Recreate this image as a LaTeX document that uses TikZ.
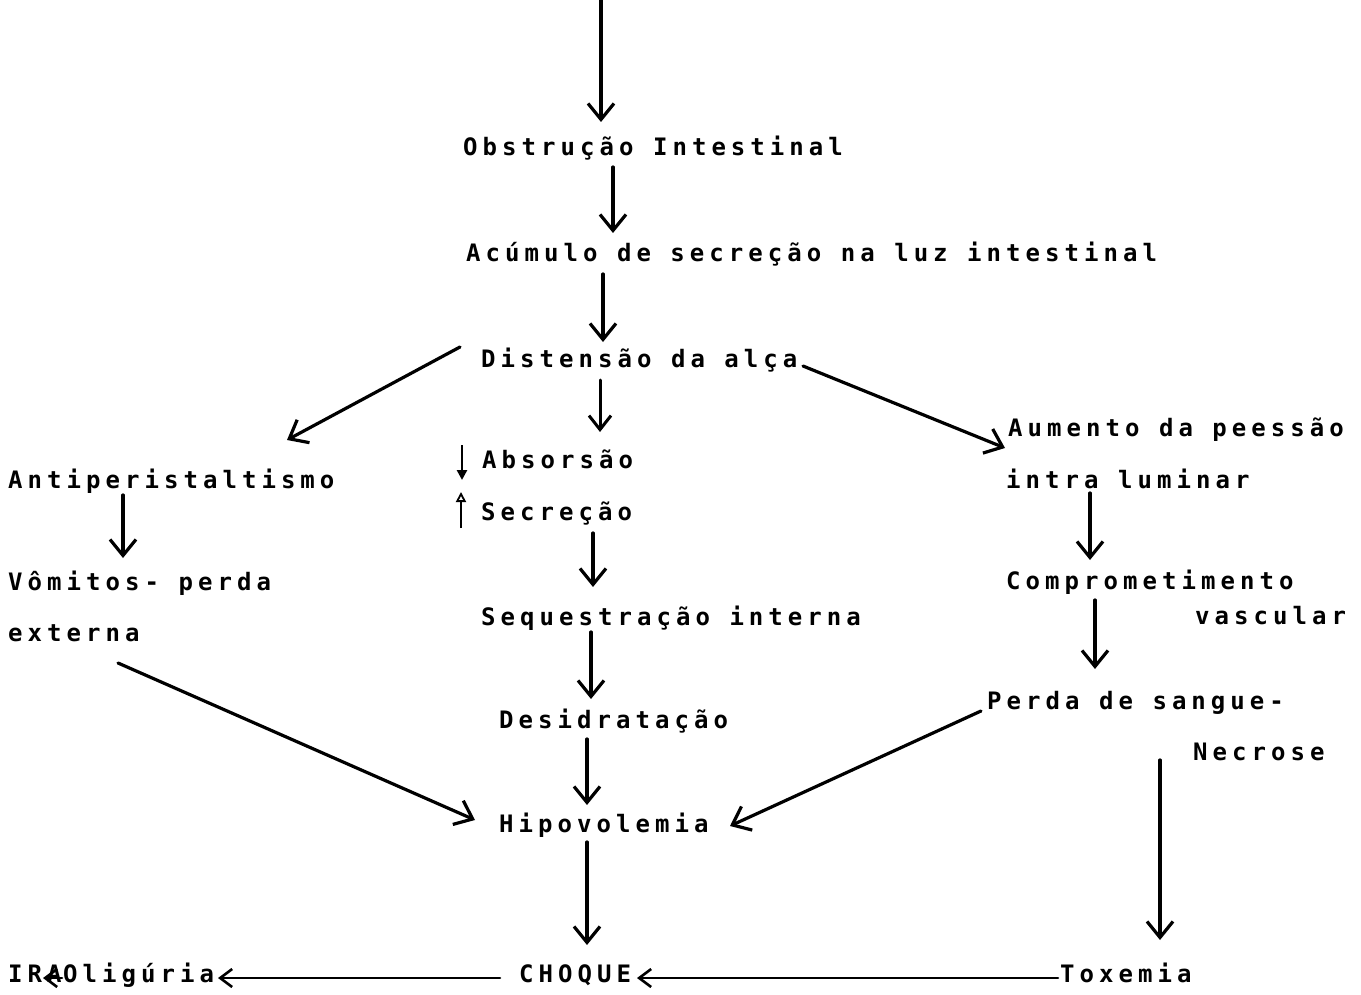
\documentclass[tikz,border=0pt]{standalone}
\usepackage{fontspec}
\newfontfamily\tw[LetterSpace=21]{DejaVu Sans Mono Bold}
\usetikzlibrary{arrows.meta}
\tikzset{
  lbl/.style={anchor=base west, inner sep=0pt, font=\tw\fontsize{24}{28}\selectfont},
  arr/.style={line width=3.2pt, line cap=round, -{Straight Barb[length=16pt,width=26pt,line width=3.2pt]}},
  arrm/.style={line width=3pt, line cap=round, -{Straight Barb[length=14pt,width=22pt,line width=3pt]}},
  arrs/.style={line width=2.6pt, line cap=round, -{Straight Barb[length=12pt,width=18pt,line width=2.6pt]}},
  tiny/.style={line width=2.8pt, -{Triangle[length=10pt,width=10pt]}},
  tinyo/.style={line width=2.8pt, -{Triangle[open,length=10pt,width=10pt,line width=1.8pt]}}
}
\begin{document}
\begin{tikzpicture}[x=1pt,y=-1pt]
\useasboundingbox (0,0) rectangle (1361,995);
\node[lbl] (obs) at (463,156) {Obstrução Intestinal};
\node[lbl] (acu) at (466,262) {Acúmulo de secreção na luz intestinal};
\node[lbl] (dis) at (481,367) {Distensão da alça};
\node[lbl] (aum) at (1008,436) {Aumento da peessão};
\node[lbl] (intra) at (1006,488) {intra luminar};
\node[lbl] (anti) at (8,488) {Antiperistaltismo};
\node[lbl] (abs) at (482,468) {Absorsão};
\node[lbl] (sec) at (481,520) {Secreção};
\node[lbl] (vom) at (8,590) {Vômitos- perda};
\node[lbl] (ext) at (8,641) {externa};
\node[lbl] (seq) at (481,625) {Sequestração interna};
\node[lbl] (comp) at (1006,589) {Comprometimento};
\node[lbl] (vasc) at (1195,624) {vascular};
\node[lbl] (perda) at (987,709) {Perda de sangue-};
\node[lbl] (nec) at (1193,760) {Necrose};
\node[lbl] (des) at (499,728) {Desidratação};
\node[lbl] (hip) at (499,832) {Hipovolemia};
\node[lbl] (choque) at (519,982) {CHOQUE};
\node[lbl] (tox) at (1060,982) {Toxemia};
\node[lbl] (oli) at (63,982) {Oligúria};
\node[lbl] (ira) at (8,982) {IRA};
\coordinate (top) at (601,0);

\draw[arr] (top) -- ([shift={(138,-34)}]obs.base west);
\draw[arr] ([shift={(150,11)}]obs.base west) -- ([shift={(147,-29)}]acu.base west);
\draw[arr] ([shift={(137,12)}]acu.base west) -- ([shift={(122,-25)}]dis.base west);
\draw[arr] ([shift={(-21,-20)}]dis.base west) -- ([shift={(279,-48)}]anti.base west);
\draw[arrm] ([shift={(119,13)}]dis.base west) -- ([shift={(118,-36)}]abs.base west);
\draw[arr] ([shift={(322,-1)}]dis.base west) -- ([shift={(-3,12)}]aum.base west);
\draw[arr] ([shift={(115,7)}]anti.base west) -- ([shift={(115,-32)}]vom.base west);
\draw[tiny] ([shift={(-20,-23)}]abs.base west) -- ([shift={(-20,12)}]abs.base west);
\draw[tinyo] ([shift={(-20,8)}]sec.base west) -- ([shift={(-20,-28)}]sec.base west);
\draw[arr] ([shift={(112,13)}]sec.base west) -- ([shift={(112,-38)}]seq.base west);
\draw[arr] ([shift={(84,5)}]intra.base west) -- ([shift={(84,-29)}]comp.base west);
\draw[arr] ([shift={(89,11)}]comp.base west) -- ([shift={(108,-40)}]perda.base west);
\draw[arr] ([shift={(110,7)}]seq.base west) -- ([shift={(92,-29)}]des.base west);
\draw[arr] ([shift={(110,22)}]ext.base west) -- ([shift={(-24,-12)}]hip.base west);
\draw[arr] ([shift={(88,11)}]des.base west) -- ([shift={(88,-27)}]hip.base west);
\draw[arr] ([shift={(-6,2)}]perda.base west) -- ([shift={(231,-6)}]hip.base west);
\draw[arr] ([shift={(-33,0)}]nec.base west) -- ([shift={(100,-42)}]tox.base west);
\draw[arr] ([shift={(88,10)}]hip.base west) -- ([shift={(68,-37)}]choque.base west);
\draw[arrs] ([shift={(-2,-4)}]tox.base west) -- ([shift={(118,-4)}]choque.base west);
\draw[arrs] ([shift={(-19,-4)}]choque.base west) -- ([shift={(155,-4)}]oli.base west);
\draw[arrs] ([shift={(-1,-4)}]oli.base west) -- ([shift={(35,-4)}]ira.base west);
\end{tikzpicture}
\end{document}
